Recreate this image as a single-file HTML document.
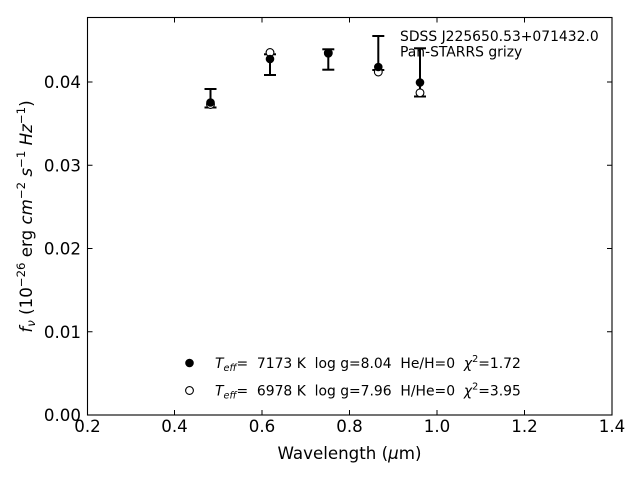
<!DOCTYPE html>
<html>
<head>
<meta charset="utf-8">
<style>
html,body{margin:0;padding:0;background:#fff;}
svg{display:block;}
text{font-family:"DejaVu Sans","Liberation Sans",sans-serif;fill:#000;}
</style>
</head>
<body>
<svg width="640" height="480" viewBox="0 0 640 480" xmlns="http://www.w3.org/2000/svg">
<rect x="0" y="0" width="640" height="480" fill="#fff"/>

<!-- error bars -->
<g stroke="#000" stroke-width="2" fill="none">
  <line x1="210.5" y1="89" x2="210.5" y2="107.5"/>
  <line x1="204.5" y1="89" x2="216.5" y2="89"/>
  <line x1="204.5" y1="107.5" x2="216.5" y2="107.5"/>

  <line x1="270" y1="54.3" x2="270" y2="75"/>
  <line x1="264" y1="54.3" x2="276" y2="54.3"/>
  <line x1="264" y1="75" x2="276" y2="75"/>

  <line x1="328.3" y1="49.3" x2="328.3" y2="69.7"/>
  <line x1="322.3" y1="49.3" x2="334.3" y2="49.3"/>
  <line x1="322.3" y1="69.7" x2="334.3" y2="69.7"/>

  <line x1="378.3" y1="36" x2="378.3" y2="70"/>
  <line x1="372.3" y1="36" x2="384.3" y2="36"/>
  <line x1="372.3" y1="70" x2="384.3" y2="70"/>

  <line x1="420" y1="48.3" x2="420" y2="96.5"/>
  <line x1="414" y1="48.3" x2="426" y2="48.3"/>
  <line x1="414" y1="96.5" x2="426" y2="96.5"/>
</g>

<!-- open circles -->
<g fill="#fff" stroke="#000" stroke-width="1.1">
  <circle cx="210.5" cy="104.5" r="3.9"/>
  <circle cx="270" cy="52.5" r="3.9"/>
  <circle cx="328.3" cy="53" r="3.9"/>
  <circle cx="378.3" cy="72" r="3.9"/>
  <circle cx="420" cy="92.8" r="3.9"/>
</g>

<!-- filled circles -->
<g fill="#000">
  <circle cx="210.5" cy="102.5" r="4.3"/>
  <circle cx="270" cy="59" r="4.3"/>
  <circle cx="328.3" cy="53.3" r="4.3"/>
  <circle cx="378.3" cy="67" r="4.3"/>
  <circle cx="420" cy="82.5" r="4.3"/>
</g>

<!-- axes frame -->
<rect x="87.5" y="17.5" width="524.5" height="397.5" fill="none" stroke="#000" stroke-width="1.1"/>

<!-- ticks -->
<g stroke="#000" stroke-width="1">
  <!-- x bottom -->
  <line x1="174.5" y1="415" x2="174.5" y2="410"/>
  <line x1="262" y1="415" x2="262" y2="410"/>
  <line x1="349.5" y1="415" x2="349.5" y2="410"/>
  <line x1="437" y1="415" x2="437" y2="410"/>
  <line x1="524.5" y1="415" x2="524.5" y2="410"/>
  <!-- x top -->
  <line x1="174.5" y1="17.5" x2="174.5" y2="22.5"/>
  <line x1="262" y1="17.5" x2="262" y2="22.5"/>
  <line x1="349.5" y1="17.5" x2="349.5" y2="22.5"/>
  <line x1="437" y1="17.5" x2="437" y2="22.5"/>
  <line x1="524.5" y1="17.5" x2="524.5" y2="22.5"/>
  <!-- y left -->
  <line x1="87.5" y1="331.75" x2="92.5" y2="331.75"/>
  <line x1="87.5" y1="248.5" x2="92.5" y2="248.5"/>
  <line x1="87.5" y1="165.25" x2="92.5" y2="165.25"/>
  <line x1="87.5" y1="82" x2="92.5" y2="82"/>
  <!-- y right -->
  <line x1="612" y1="331.75" x2="607" y2="331.75"/>
  <line x1="612" y1="248.5" x2="607" y2="248.5"/>
  <line x1="612" y1="165.25" x2="607" y2="165.25"/>
  <line x1="612" y1="82" x2="607" y2="82"/>
</g>

<!-- x tick labels -->
<g font-size="16.67" text-anchor="middle">
  <text x="87.5" y="432">0.2</text>
  <text x="174.5" y="432">0.4</text>
  <text x="262" y="432">0.6</text>
  <text x="349.5" y="432">0.8</text>
  <text x="437" y="432">1.0</text>
  <text x="524.5" y="432">1.2</text>
  <text x="612" y="432">1.4</text>
</g>

<!-- y tick labels -->
<g font-size="16.67" text-anchor="end">
  <text x="81" y="421">0.00</text>
  <text x="81" y="337.8">0.01</text>
  <text x="81" y="254.5">0.02</text>
  <text x="81" y="171.3">0.03</text>
  <text x="81" y="88">0.04</text>
</g>

<!-- x label -->
<text x="349.5" y="459" font-size="16.67" text-anchor="middle" xml:space="preserve">Wavelength (<tspan font-style="italic">μ</tspan>m)</text>

<!-- y label -->
<text transform="translate(32,216.5) rotate(-90)" font-size="16.67" text-anchor="middle" xml:space="preserve"><tspan font-style="italic">f</tspan><tspan font-style="italic" font-size="11.7" dy="3">ν</tspan><tspan dy="-3"> (10</tspan><tspan font-size="11.7" dy="-7">−26</tspan><tspan dy="7"> erg </tspan><tspan font-style="italic">cm</tspan><tspan font-size="11.7" dy="-7">−2</tspan><tspan dy="7"> </tspan><tspan font-style="italic">s</tspan><tspan font-size="11.7" dy="-7">−1</tspan><tspan dy="7"> </tspan><tspan font-style="italic">Hz</tspan><tspan font-size="11.7" dy="-7">−1</tspan><tspan dy="7">)</tspan></text>

<!-- upper legend -->
<g font-size="13.9">
  <text x="400" y="41">SDSS J225650.53+071432.0</text>
  <text x="400" y="56.5">Pan-STARRS grizy</text>
</g>

<!-- lower legend -->
<circle cx="189.5" cy="363" r="4.3" fill="#000"/>
<circle cx="189.5" cy="390.5" r="3.9" fill="#fff" stroke="#000" stroke-width="1.1"/>
<g font-size="13.9">
  <text x="215" y="368" xml:space="preserve"><tspan font-style="italic">T</tspan><tspan font-style="italic" font-size="9.7" dy="3">eff</tspan><tspan dy="-3">=  7173 K  log g=8.04  He/H=0  </tspan><tspan font-style="italic">χ</tspan><tspan font-size="9.7" dy="-6">2</tspan><tspan dy="6">=1.72</tspan></text>
  <text x="215" y="395.5" xml:space="preserve"><tspan font-style="italic">T</tspan><tspan font-style="italic" font-size="9.7" dy="3">eff</tspan><tspan dy="-3">=  6978 K  log g=7.96  H/He=0  </tspan><tspan font-style="italic">χ</tspan><tspan font-size="9.7" dy="-6">2</tspan><tspan dy="6">=3.95</tspan></text>
</g>
</svg>
</body>
</html>
